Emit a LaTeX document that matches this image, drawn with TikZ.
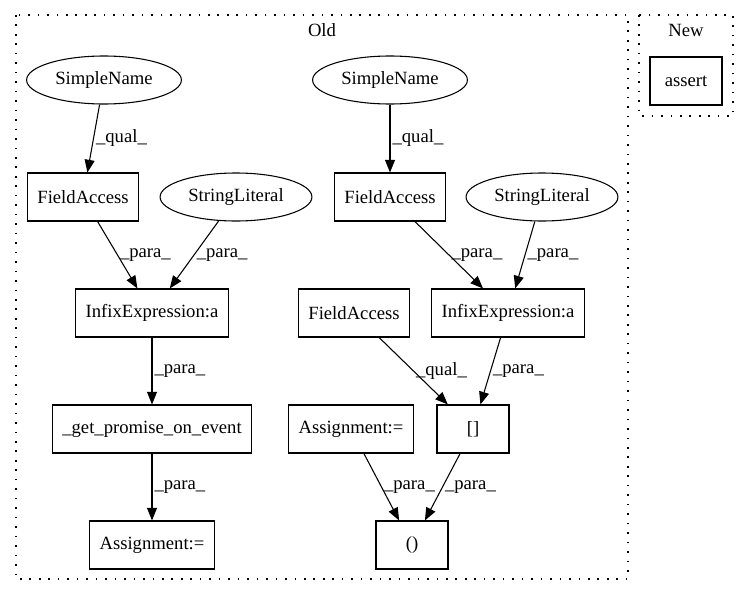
\documentclass[tikz,border=0pt]{standalone}
\usepackage{fontspec}
\setmainfont{Liberation Serif}
\usetikzlibrary{arrows.meta, shapes.geometric}
\tikzset{
    x=0.75pt, y=-0.75pt, % one unit is one pixel of the layout, y grows downwards
    every node/.style={font=\fontsize{14pt}{16pt}\selectfont},
    astbox/.style={ % Boxes for the AST nodes
        draw, rectangle, line width=0.8pt,
        minimum width=54pt, minimum height=36pt,
        inner xsep=7.5pt
    },
    astleaf/.style={ % Ellipses for the leaves
        draw, ellipse, line width=0.8pt,
        minimum height=36pt, inner xsep=4.5pt
    },
    cluster/.style={ % Dotted frames round Old and New
        line width=0.9pt, dash pattern=on 1.2pt off 5.9pt
    },
    flow/.style={ % Every connector
        draw, line width=0.8pt,
        -{Triangle[length=9.5pt, width=7.5pt]}
    },
    lbl/.style={midway, anchor=west, inner sep=0pt, xshift=1.5pt}
}

\begin{document}
\begin{tikzpicture}
    \useasboundingbox (0,0) rectangle (748,596);

    % clusters
    \draw[cluster] (16,15) rectangle (628,579);
    \node (old) at (322,30) {Old};
    \draw[cluster] (639,15) rectangle (733,116);
    \node (new) at (686,30) {New};

    % Old, left part
    \node[astleaf] (sname1) at (104,80)  {SimpleName};
    \node[astbox]  (facc1)  at (83,197)  {FieldAccess};
    \node[astleaf] (slit1)  at (236,197) {StringLiteral};
    \node[astbox]  (infix1) at (152,313) {InfixExpression:a};
    \node[astbox]  (promise) at (152,429) {\_get\_promise\_on\_event};
    \node[astbox]  (assign1) at (152,545) {Assignment:=};

    % Old, right part
    \node[astleaf] (sname2) at (390,80)  {SimpleName};
    \node[astbox]  (facc2)  at (390,197) {FieldAccess};
    \node[astleaf] (slit2)  at (542,197) {StringLiteral};
    \node[astbox]  (facc3)  at (354,313) {FieldAccess};
    \node[astbox]  (infix2) at (508,313) {InfixExpression:a};
    \node[astbox]  (assign2) at (351,429) {Assignment:=};
    \node[astbox]  (index)  at (473,429) {[]};
    \node[astbox]  (call)   at (412,545) {()};

    % New
    \node[astbox]  (assertn) at (686,81) {assert};

    \draw[flow] (sname1) -- node[lbl]{\_qual\_} (facc1);
    \draw[flow] (facc1)  -- node[lbl]{\_para\_} (infix1);
    \draw[flow] (slit1)  -- node[lbl]{\_para\_} (infix1);
    \draw[flow] (infix1) -- node[lbl]{\_para\_} (promise);
    \draw[flow] (promise) -- node[lbl]{\_para\_} (assign1);

    \draw[flow] (sname2) -- node[lbl]{\_qual\_} (facc2);
    \draw[flow] (facc2)  -- node[lbl]{\_para\_} (infix2);
    \draw[flow] (slit2)  -- node[lbl]{\_para\_} (infix2);
    \draw[flow] (facc3)  -- node[lbl]{\_qual\_} (index);
    \draw[flow] (infix2) -- node[lbl]{\_para\_} (index);
    \draw[flow] (assign2) -- node[lbl]{\_para\_} (call);
    \draw[flow] (index)  -- node[lbl]{\_para\_} (call);
\end{tikzpicture}
\end{document}
